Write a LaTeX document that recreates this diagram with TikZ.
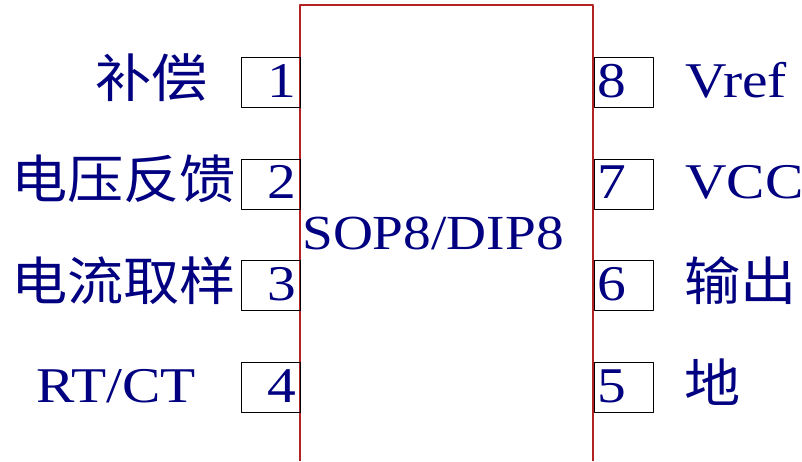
\documentclass[tikz,border=0pt]{standalone}
\usepackage{fontspec}
\setmainfont{Liberation Serif}
\newfontfamily\cjk{Noto Sans CJK SC}
\usetikzlibrary{positioning}
\definecolor{pinblue}{RGB}{0,0,128}
\definecolor{chipred}{RGB}{178,34,34}

\begin{document}
\begin{tikzpicture}[
        x = 1pt, y = -1pt,
        line join=round,
        pinbox/.style = {draw, thin, rectangle, minimum width=59pt, minimum height=50pt, inner sep=0pt},
        pinnum/.style = {text=pinblue, inner sep=0pt, xscale=1.15, font=\fontsize{50}{60}\selectfont},
        pinname/.style = {text=pinblue, inner sep=0pt, anchor=base west, xscale=1.15, font=\fontsize{50}{60}\selectfont},
        cjkname/.style = {pinname, xscale=0.94, font=\fontsize{52}{60}\selectfont\cjk}
    ]
        \useasboundingbox (0,0) rectangle (802,461);

        % chip body, open at the bottom
        \coordinate (bl) at (300,461);
        \coordinate (tl) at (300,5);
        \coordinate (tr) at (593,5);
        \coordinate (br) at (593,461);
        \draw[chipred, line width=1.2pt] (bl) -- (tl) -- (tr) -- (br);

        \node[text=pinblue, inner sep=0pt, anchor=base, xscale=1.13, font=\fontsize{49}{60}\selectfont] (chip) at (433,249) {SOP8/DIP8};

        % left pins
        \node[pinbox] (p1) at (270.5,82) {};
        \node[pinbox] (p2) at (270.5,183.7) {};
        \node[pinbox] (p3) at (270.5,285.3) {};
        \node[pinbox] (p4) at (270.5,387) {};

        % right pins
        \node[pinbox] (p8) at (623.5,82) {};
        \node[pinbox] (p7) at (623.5,183.7) {};
        \node[pinbox] (p6) at (623.5,285.3) {};
        \node[pinbox] (p5) at (623.5,387) {};

        \node[pinnum, anchor=base east] (n1) at (296,97) {1};
        \node[pinnum, anchor=base east] (n2) at (296,198.7) {2};
        \node[pinnum, anchor=base east] (n3) at (296,300.3) {3};
        \node[pinnum, anchor=base east] (n4) at (296,402) {4};

        \node[pinnum, anchor=base west] (n8) at (597,97) {8};
        \node[pinnum, anchor=base west] (n7) at (597,198.7) {7};
        \node[pinnum, anchor=base west] (n6) at (597,300.3) {6};
        \node[pinnum, anchor=base west] (n5) at (597,402) {5};

        % pin names
        \node[cjkname] (comp) at (95,97) {补偿};
        \node[cjkname] (vfb) at (11,198.7) {电压反馈};
        \node[cjkname] (isense) at (11,300.3) {电流取样};
        \node[pinname] (rtct) at (36,402) {RT/CT};

        \node[pinname] (vref) at (685,97) {Vref};
        \node[pinname] (vcc) at (685,198.7) {VCC};
        \node[cjkname] (out) at (684,300.3) {输出};
        \node[cjkname] (gnd) at (684,402) {地};

    \end{tikzpicture}
\end{document}
